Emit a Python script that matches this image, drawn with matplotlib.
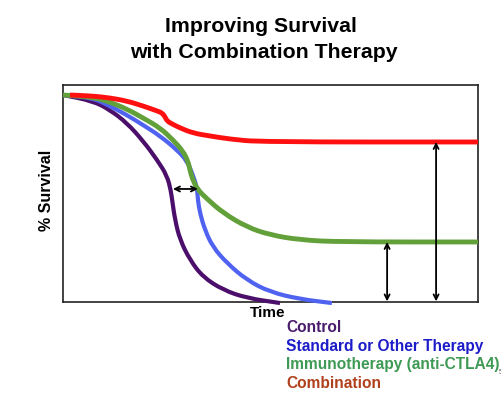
import matplotlib
matplotlib.use("Agg")
import matplotlib.pyplot as plt
from matplotlib.path import Path
from matplotlib.patches import PathPatch

plt.rcParams['font.family'] = ['Liberation Sans', 'DejaVu Sans']

# Curves (x = time 0-100, y = % survival)
control_x = [0, 7.2, 11.3, 15.4, 19.3, 22.7, 25.1, 26.0, 26.3, 27.0, 28.2, 30.6, 33.7, 38.6, 44.3, 52.3]
control_y = [100, 97.1, 92.8, 86.5, 77.8, 68.6, 60.9, 53.6, 49.3, 39.6, 30.0, 20.3, 12.1, 5.8, 1.9, -0.5]

standard_x = [0, 7.2, 11.3, 15.4, 19.3, 23.4, 27.5, 29.9, 31.3, 32.3, 32.5, 33.0, 34.2, 36.1, 39.5,
              44.3, 49.9, 57.1, 64.8]
standard_y = [100, 98.6, 94.7, 90.3, 85.5, 80.2, 73.4, 68.1, 61.4, 55.1, 49.3, 43.0, 34.8, 26.6, 18.8,
              10.6, 4.8, 1.4, -0.5]

immuno_x = [0, 7.2, 11.3, 15.4, 19.3, 23.4, 26.5, 28.9, 30.1, 30.6, 31.1, 32.3, 34.7, 38.6, 44.3,
            49.9, 57.1, 66.7, 100]
immuno_y = [100, 99.0, 96.6, 93.2, 88.9, 84.1, 78.3, 72.9, 68.1, 63.8, 59.9, 54.6, 49.8, 43.0, 36.2,
            32.4, 30.0, 29.0, 29.0]

combo_x = [1.7, 7.2, 11.3, 15.4, 19.3, 22.7, 23.9, 24.6, 25.1, 26.3, 28.2, 31.3, 35.4, 40.2, 47.5, 100]
combo_y = [100, 99.5, 98.6, 97.1, 94.7, 92.3, 91.3, 89.4, 87.4, 86.0, 84.1, 81.6, 80.2, 78.7, 77.3, 77.3]

# Annotation arrows
h_arrow_x = [26.5, 32.5]
h_arrow_y = 54.6
v_arrow_x = [78.1, 89.9]
v_arrow_top = [29.0, 77.3]

legend_labels = ["Control", "Standard or Other Therapy", "Immunotherapy (anti-CTLA4)", "Combination"]
legend_colors = ["#4a1c6e", "#1c1cc8", "#3f9a55", "#b0401c"]

fig = plt.figure(figsize=(5.02, 3.95), dpi=100)
ax = fig.add_axes([63/502, (395-302)/395, 415/502, 217/395])
ax.set_xlim(0, 100)
ax.set_ylim(0, 100*217/207)
ax.set_xticks([])
ax.set_yticks([])
for s in ax.spines.values():
    s.set_linewidth(1.2)
    s.set_color('#222222')


def smooth_curve(xs, ys, color, lw, z):
    """Draw a smooth quadratic-Bezier path through the read points (points act as control points)."""
    pts = list(zip(xs, ys))
    verts = [pts[0]]
    codes = [Path.MOVETO]
    mids = [((pts[i][0] + pts[i + 1][0]) / 2, (pts[i][1] + pts[i + 1][1]) / 2) for i in range(len(pts) - 1)]
    verts.append(mids[0]); codes.append(Path.LINETO)
    for i in range(1, len(pts) - 1):
        verts += [pts[i], mids[i]]
        codes += [Path.CURVE3, Path.CURVE3]
    verts.append(pts[-1]); codes.append(Path.LINETO)
    patch = PathPatch(Path(verts, codes), facecolor='none', edgecolor=color, lw=lw,
                      capstyle='butt', joinstyle='round', zorder=z, clip_on=False,
                      transform=ax.transData)
    ax.add_patch(patch)


smooth_curve(control_x, control_y, '#4b0f6b', 3, 3)
smooth_curve(standard_x, standard_y, '#4f63f0', 3, 3)
smooth_curve(immuno_x, immuno_y, '#62a03a', 3.5, 4)
smooth_curve(combo_x, combo_y, '#ff1010', 3.5, 5)

arrowprops = dict(arrowstyle='<->', color='black', lw=1.3, shrinkA=0, shrinkB=0, mutation_scale=9)
ax.annotate('', xy=(h_arrow_x[1], h_arrow_y), xytext=(h_arrow_x[0], h_arrow_y), arrowprops=arrowprops, zorder=6)
for vx, vt in zip(v_arrow_x, v_arrow_top):
    ax.annotate('', xy=(vx, vt), xytext=(vx, 0.3), arrowprops=arrowprops, zorder=6)

fig.text(261/502, 1-27/395, "Improving Survival", ha='center', va='center', fontsize=15.3, fontweight='bold')
fig.text(264/502, 1-53/395, "with Combination Therapy", ha='center', va='center', fontsize=15.3, fontweight='bold')
fig.text(47/502, 1-190/395, "% Survival", ha='center', va='center', rotation=90, fontsize=11.5, fontweight='bold')
fig.text(268/502, 1-313/395, "Time", ha='center', va='center', fontsize=11, fontweight='bold')

ys = [327, 346, 365, 384]
for lab, col, y in zip(legend_labels, legend_colors, ys):
    fig.text(286/502, 1-y/395, lab, ha='left', va='center', fontsize=11.2, fontweight='bold', color=col)
fig.text(499/502, 1-373/395, "5", ha='left', va='center', fontsize=5, color='#555555')

fig.savefig("out.png", dpi=100)
